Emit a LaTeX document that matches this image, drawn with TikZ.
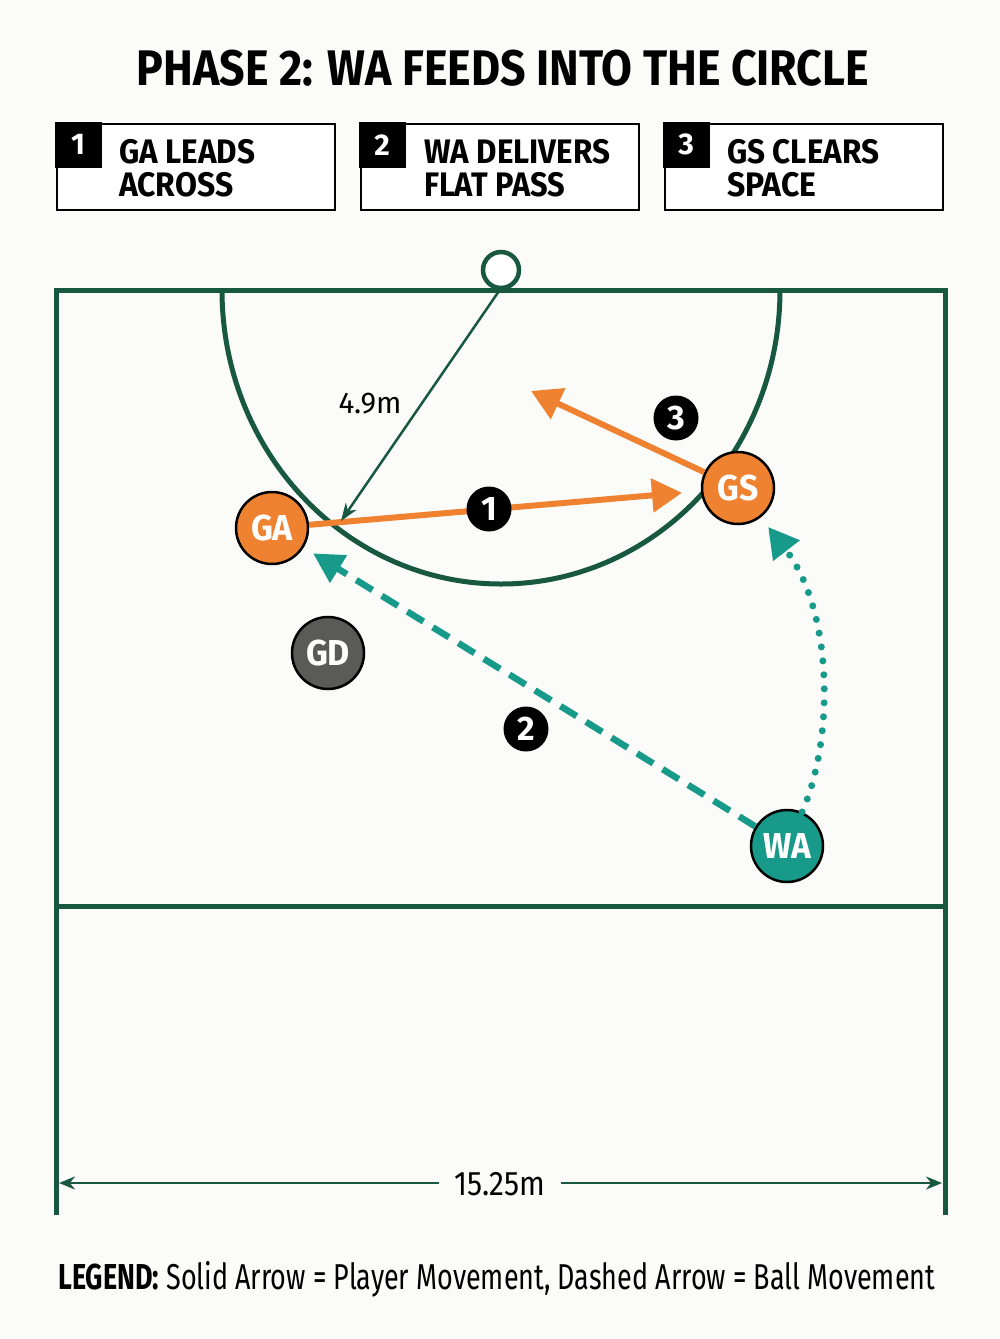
\documentclass[tikz,border=0pt]{standalone}
\usepackage{fontspec}
\setmainfont{Fira Sans}
\usepackage{graphicx}
\usetikzlibrary{arrows.meta}
\definecolor{court}{RGB}{24,88,64}
\definecolor{orng}{RGB}{238,130,48}
\definecolor{tealc}{RGB}{24,154,138}
\definecolor{gdgrey}{RGB}{90,90,88}
\definecolor{bgc}{RGB}{251,251,249}
\newcommand\fitw[2]{\resizebox{#1pt}{\height}{#2}}
\begin{document}
\begin{tikzpicture}[x=1pt,y=-1pt,
  player/.style={circle, draw=black, line width=2.5pt, minimum size=72pt, inner sep=0pt, text=white, font=\fontsize{36}{36}\selectfont\bfseries},
  badge/.style={circle, fill=black, minimum size=45pt, inner sep=0pt, text=white, font=\fontsize{34}{34}\selectfont\bfseries},
  infobox/.style={draw=black, line width=2.5pt, minimum width=278pt, minimum height=86pt, inner sep=0pt, fill=white},
  tabbox/.style={fill=black, minimum width=47pt, minimum height=46pt, inner sep=0pt, text=white, font=\fontsize{30}{30}\selectfont\bfseries},
  boxtext/.style={anchor=base west, inner sep=0pt, font=\fontsize{34}{34}\selectfont\bfseries},
  courtline/.style={draw=court, line width=5pt},
  move/.style={draw=orng, line width=6pt, -{Triangle[length=30pt,width=33pt]}},
  pass/.style={draw=tealc, line width=6.5pt, dash pattern=on 19pt off 11pt, -{Triangle[length=30pt,width=31pt]}},
  dotpass/.style={draw=tealc, line width=7pt, line cap=round, dash pattern=on 0pt off 14pt, -{Triangle[length=30pt,width=32pt]}},
  radiusline/.style={draw=court, line width=2.5pt, -{Stealth[length=18pt,width=13pt]}},
  dimline/.style={draw=court, line width=2.5pt},
  label/.style={inner sep=0pt}
]
% background / bounding box
\fill[bgc] (0,0) rectangle (1000,1339);
\useasboundingbox (0,0) rectangle (1000,1339);

% title
\node[label, anchor=base, font=\fontsize{50}{50}\selectfont\bfseries] (title) at (503,85) {\fitw{732}{PHASE 2: WA FEEDS INTO THE CIRCLE}};

% step boxes
\node[infobox] (b1) at (196,167) {};
\node[infobox] (b2) at (500,167) {};
\node[infobox] (b3) at (804,167) {};
\node[tabbox, anchor=north west] (t1) at ([xshift=-1.25pt,yshift=1.25pt]b1.north west) {1};
\node[tabbox, anchor=north west] (t2) at ([xshift=-1.25pt,yshift=1.25pt]b2.north west) {2};
\node[tabbox, anchor=north west] (t3) at ([xshift=-1.25pt,yshift=1.25pt]b3.north west) {3};
\node[boxtext] (b1a) at (119,163) {\fitw{136}{GA LEADS}};
\node[boxtext] (b1b) at (119,196) {\fitw{114}{ACROSS}};
\node[boxtext] (b2a) at (424,163) {\fitw{186}{WA DELIVERS}};
\node[boxtext] (b2b) at (424,196) {\fitw{141}{FLAT PASS}};
\node[boxtext] (b3a) at (727,163) {\fitw{152}{GS CLEARS}};
\node[boxtext] (b3b) at (727,196) {\fitw{89}{SPACE}};

% court
\draw[courtline] (56,1215) -- (56,290) -- (945,290) -- (945,1215);
\draw[courtline] (56,906) -- (945,906);
\draw[courtline] (222,290) arc[start angle=180, end angle=0, x radius=279, y radius=294];
\node[circle, draw=court, line width=4.5pt, fill=white, minimum size=36pt, inner sep=0pt] (goal) at (501,270) {};
\coordinate (gc) at (499,291);
\coordinate (rtip) at (341,521);

% players
\node[player, fill=orng] (GA) at (272,528) {\fitw{42}{GA}};
\node[player, fill=orng] (GS) at (738,488) {\fitw{41}{GS}};
\node[player, fill=gdgrey] (GD) at (328,653) {\fitw{44}{GD}};
\node[player, fill=tealc] (WA) at (787,846) {\fitw{48}{WA}};
\coordinate (gs3) at (531,391);

% movements
\draw[move, shorten >=19pt] (GA) -- (GS);
\draw[move] (GS) -- (gs3);
\draw[pass, shorten >=11pt] (WA) -- (GA);
\draw[dotpass, shorten >=12pt] (WA) .. controls (834,740) and (834,612) .. (GS);
\draw[radiusline] (gc) -- (rtip);
\node[label, anchor=base, font=\fontsize{30}{30}\selectfont] (rlbl) at (370,413) {\fitw{63}{4.9m}};

% badges
\node[badge] (n1) at (489,509) {1};
\node[badge] (n2) at (526,729) {2};
\node[badge] (n3) at (676,418) {3};

% width dimension
\coordinate (dimL) at (59,1183);
\coordinate (dimR) at (942,1183);
\node[inner xsep=15pt, inner ysep=0pt, anchor=base, font=\fontsize{34}{34}\selectfont] (dimlbl) at (500,1195) {\fitw{91}{15.25m}};
\draw[dimline, -{Stealth[length=16pt,width=13pt]}] (dimlbl.west |- dimL) -- (dimL);
\draw[dimline, -{Stealth[length=16pt,width=13pt]}] (dimlbl.east |- dimR) -- (dimR);

% legend
\node[label, anchor=base west, font=\fontsize{36}{36}\selectfont] (legend) at (58,1289) {\fitw{877}{\textbf{LEGEND:} Solid Arrow = Player Movement, Dashed Arrow = Ball Movement}};
\end{tikzpicture}
\end{document}
